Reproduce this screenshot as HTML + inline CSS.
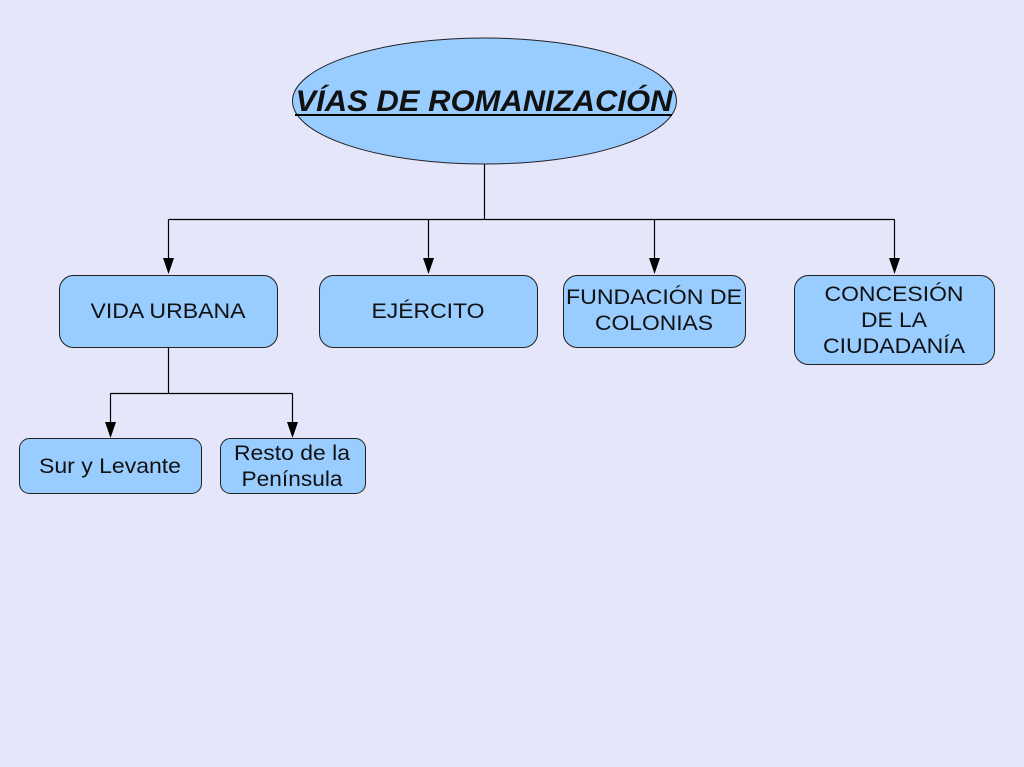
<!DOCTYPE html>
<html><head><meta charset="utf-8"><style>
html,body{margin:0;padding:0;background:#e6e6fa;}
svg{display:block;}
text{font-family:"Liberation Sans",Arial,sans-serif;font-size:21px;fill:#111;text-anchor:middle;}
</style></head><body>
<svg width="1024" height="767" viewBox="0 0 1024 767" xmlns="http://www.w3.org/2000/svg">
<rect width="1024" height="767" fill="#e6e6fa"/>
<g stroke="#000" stroke-width="1.2" fill="none">
<path d="M484.5 164V219.5M168.5 219.5H894.5M168.5 219.5V260M428.5 219.5V260M654.5 219.5V260M894.5 219.5V260"/>
<path d="M168.5 347V393.5M110.5 393.5H292.5M110.5 393.5V424M292.5 393.5V424"/>
</g>
<g fill="#000">
<path d="M163 258H174L168.5 274Z"/>
<path d="M423 258H434L428.5 274Z"/>
<path d="M649 258H660L654.5 274Z"/>
<path d="M889 258H900L894.5 274Z"/>
<path d="M105 422H116L110.5 438Z"/>
<path d="M287 422H298L292.5 438Z"/>
</g>
<g fill="#99ccff" stroke="#222" stroke-width="1">
<ellipse cx="484.5" cy="101" rx="192" ry="63"/>
<rect x="59.5" y="275.5" width="218" height="72" rx="14"/>
<rect x="319.5" y="275.5" width="218" height="72" rx="14"/>
<rect x="563.5" y="275.5" width="182" height="72" rx="14"/>
<rect x="794.5" y="275.5" width="200" height="89" rx="14"/>
<rect x="19.5" y="438.5" width="182" height="55" rx="10"/>
<rect x="220.5" y="438.5" width="145" height="55" rx="10"/>
</g>
<text x="484" y="111" textLength="377" lengthAdjust="spacingAndGlyphs" style="font-size:30px;font-weight:bold;font-style:italic">VÍAS DE ROMANIZACIÓN</text>
<rect x="295" y="114" width="377" height="2" fill="#000"/>
<text x="168" y="318" textLength="155" lengthAdjust="spacingAndGlyphs">VIDA URBANA</text>
<text x="428" y="318" textLength="113" lengthAdjust="spacingAndGlyphs">EJÉRCITO</text>
<text x="654" y="304" textLength="176" lengthAdjust="spacingAndGlyphs">FUNDACIÓN DE</text>
<text x="654" y="330" textLength="118" lengthAdjust="spacingAndGlyphs">COLONIAS</text>
<text x="894" y="301" textLength="139" lengthAdjust="spacingAndGlyphs">CONCESIÓN</text>
<text x="894" y="327" textLength="66" lengthAdjust="spacingAndGlyphs">DE LA</text>
<text x="894" y="353" textLength="142" lengthAdjust="spacingAndGlyphs">CIUDADANÍA</text>
<text x="110" y="473" textLength="142" lengthAdjust="spacingAndGlyphs">Sur y Levante</text>
<text x="292" y="460" textLength="116" lengthAdjust="spacingAndGlyphs">Resto de la</text>
<text x="292" y="486" textLength="101" lengthAdjust="spacingAndGlyphs">Península</text>
</svg>
</body></html>
